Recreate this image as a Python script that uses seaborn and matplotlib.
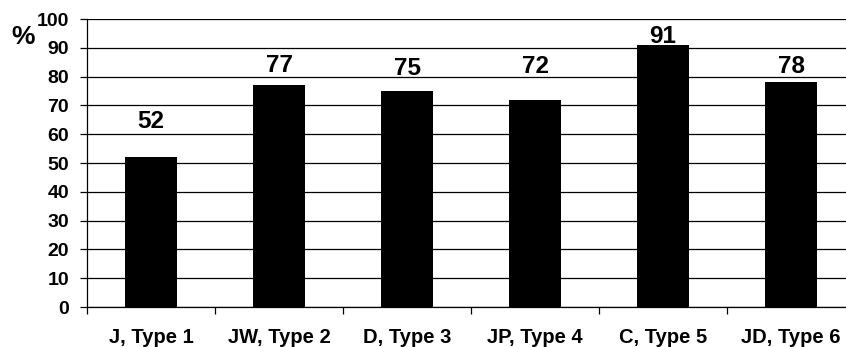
import matplotlib
matplotlib.use("Agg")
import matplotlib.pyplot as plt
from matplotlib.ticker import MultipleLocator, FixedLocator
import seaborn as sns
import pandas as pd

categories = ["J, Type 1", "JW, Type 2", "D, Type 3", "JP, Type 4", "C, Type 5", "JD, Type 6"]
values = [52, 77, 75, 72, 91, 78]
# baseline heights (in % units) where each value label sits
label_y = [62, 81.6, 80.6, 81.3, 91.7, 81.3]

sns.set_theme(style="white")
plt.rcParams["font.family"] = ["Liberation Sans", "DejaVu Sans"]
plt.rcParams["font.weight"] = "bold"

df = pd.DataFrame({"category": categories, "value": values})

fig = plt.figure(figsize=(8.46, 3.47), dpi=100)
W, H = 846, 347
ax = fig.add_axes([87 / W, 1 - 307 / H, 768 / W, 288 / H])

sns.barplot(data=df, x="category", y="value", color="black", width=0.414,
            saturation=1, edgecolor="black", linewidth=0, ax=ax, zorder=3)

ax.set_ylim(0, 100)
ax.set_xlim(-0.5, len(categories) - 0.5)
ax.yaxis.set_major_locator(MultipleLocator(10))
ax.grid(axis="y", color="black", linewidth=0.9, zorder=0)
ax.set_axisbelow(True)

for s in ["top", "right"]:
    ax.spines[s].set_visible(False)
for s in ["left", "bottom"]:
    ax.spines[s].set_color("black")
    ax.spines[s].set_linewidth(0.9)

ax.set_xlabel("")
ax.set_ylabel("")

# category labels centred under bars, tick marks at category boundaries
ax.tick_params(axis="x", which="major", length=0, pad=15, labelsize=14.5)
ax.xaxis.set_minor_locator(FixedLocator([i + 0.5 for i in range(-1, len(categories))]))
ax.tick_params(axis="x", which="minor", length=5, width=0.9, color="black", bottom=True)
ax.tick_params(axis="y", which="major", length=5, width=0.9, color="black", left=True,
               pad=8, labelsize=14)
for lab in ax.get_xticklabels() + ax.get_yticklabels():
    lab.set_fontweight("bold")
    lab.set_color("black")

for i, (v, ly) in enumerate(zip(values, label_y)):
    ax.text(i, ly, f"{v}", ha="center", va="baseline", fontsize=17.5,
            fontweight="bold", color="black", zorder=4)

fig.text(11 / W, 1 - 44 / H, "%", ha="left", va="baseline", fontsize=19,
         fontweight="bold", color="black")

fig.savefig("out.png", dpi=100)
